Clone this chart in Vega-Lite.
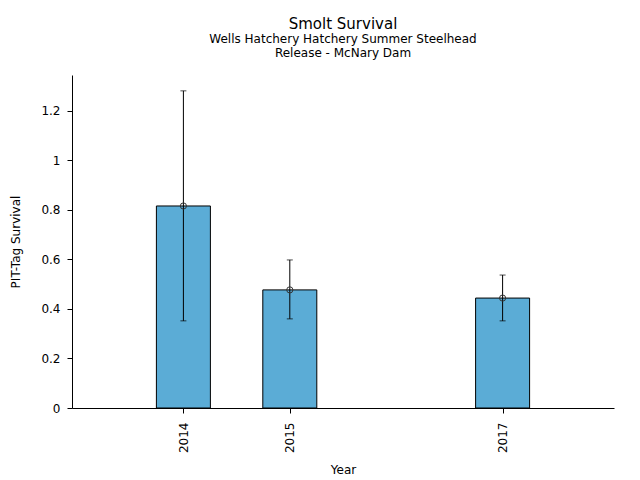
{
  "$schema": "https://vega.github.io/schema/vega-lite/v6.json",
  "width": 542,
  "height": 333,
  "autosize": {"type": "none"},
  "padding": {"left": 72, "top": 75, "right": 26, "bottom": 72},
  "background": "white",
  "title": {
    "text": "Smolt Survival",
    "subtitle": ["Wells Hatchery Hatchery Summer Steelhead", "Release - McNary Dam"],
    "anchor": "middle",
    "font": "DejaVu Sans",
    "fontSize": 15,
    "fontWeight": "normal",
    "color": "black",
    "subtitleFont": "DejaVu Sans",
    "subtitleFontSize": 12,
    "subtitleColor": "black",
    "subtitlePadding": 2,
    "subtitleLineHeight": 14,
    "offset": 16
  },
  "data": {
    "values": [
      {"year": 2014, "survival": 0.816, "lo": 0.352, "hi": 1.281},
      {"year": 2015, "survival": 0.477, "lo": 0.36, "hi": 0.598},
      {"year": 2017, "survival": 0.444, "lo": 0.352, "hi": 0.537}
    ]
  },
  "encoding": {
    "x": {
      "field": "year",
      "type": "quantitative",
      "title": "Year",
      "scale": {"domain": [2013, 2018], "nice": false, "zero": false},
      "axis": {
        "values": [2014, 2015, 2017],
        "format": "d",
        "labelAngle": -90,
        "labelAlign": "right",
        "labelBaseline": "middle",
        "labelPadding": 9,
        "titlePadding": 12
      }
    }
  },
  "layer": [
    {
      "mark": {"type": "bar", "size": 54, "color": "#5bacd6", "stroke": "black", "strokeWidth": 1},
      "encoding": {
        "y": {
          "field": "survival",
          "type": "quantitative",
          "title": "PIT-Tag Survival",
          "scale": {"domain": [0, 1.345], "nice": false},
          "axis": {"values": [0, 0.2, 0.4, 0.6, 0.8, 1, 1.2], "format": "~g", "labelPadding": 7, "titlePadding": 18}
        }
      }
    },
    {
      "mark": {"type": "rule", "color": "black", "strokeWidth": 1},
      "encoding": {
        "y": {"field": "lo", "type": "quantitative"},
        "y2": {"field": "hi"}
      }
    },
    {
      "mark": {"type": "tick", "orient": "horizontal", "size": 6, "thickness": 1, "color": "black"},
      "encoding": {"y": {"field": "lo", "type": "quantitative"}}
    },
    {
      "mark": {"type": "tick", "orient": "horizontal", "size": 6, "thickness": 1, "color": "black"},
      "encoding": {"y": {"field": "hi", "type": "quantitative"}}
    },
    {
      "mark": {"type": "point", "shape": "circle", "filled": false, "size": 38, "stroke": "#333333", "strokeWidth": 1, "opacity": 1},
      "encoding": {"y": {"field": "survival", "type": "quantitative"}}
    }
  ],
  "config": {
    "view": {"stroke": null},
    "axis": {
      "grid": false,
      "domainColor": "black",
      "tickColor": "black",
      "tickSize": 5,
      "labelFont": "DejaVu Sans",
      "labelFontSize": 12,
      "labelColor": "black",
      "titleFont": "DejaVu Sans",
      "titleFontSize": 12,
      "titleFontWeight": "normal",
      "titleColor": "black"
    }
  }
}
